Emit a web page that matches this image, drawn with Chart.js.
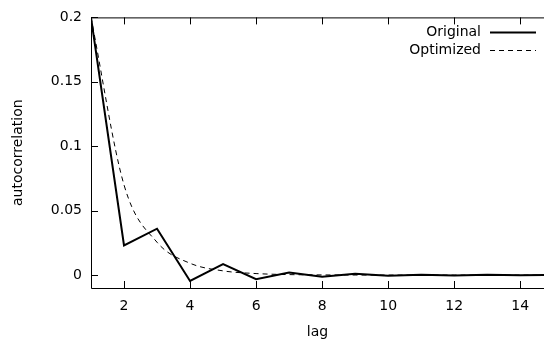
<!DOCTYPE html>
<html>
<head>
<meta charset="utf-8">
<script src="https://cdn.jsdelivr.net/npm/chart.js@4/dist/chart.umd.min.js"></script>
<style>
  html, body { margin: 0; padding: 0; background: #fff; }
  #wrap { width: 544px; height: 343px; }
</style>
</head>
<body>
<div id="wrap"><canvas id="acf"></canvas></div>
<script>
const lags = [1, 2, 3, 4, 5, 6, 7, 8, 9, 10, 11, 12, 13, 14, 15];
const original = [0.2, 0.023, 0.036, -0.0045, 0.0085, -0.0031, 0.0021, -0.0013, 0.001, -0.0005, 0.0003, -0.0003, 0.0002, -0.0001, 0.0001];
const optimized = [0.2, 0.07, 0.0255, 0.0092, 0.0033, 0.0012, 0.0004, 0.00015, 0.00006, 0.00002, 0.00001, 0, 0, 0, 0];
const xTicks = [2, 4, 6, 8, 10, 12, 14];
const yTicks = [0, 0.05, 0.1, 0.15, 0.2];
const yTickLabels = ['0', '0.05', '0.1', '0.15', '0.2'];

const FONT = "'DejaVu Sans', sans-serif";
const INK = '#000';

// gnuplot-like frame: left/bottom/top border, inward ticks, key at top right
const frame = {
  id: 'frame',
  afterDatasetsDraw(chart) {
    const { ctx, chartArea: a, scales: { x, y } } = chart;
    ctx.save();
    ctx.strokeStyle = INK;
    ctx.lineWidth = 1;
    ctx.beginPath();
    ctx.moveTo(a.left + 0.5, a.top + 0.5);
    ctx.lineTo(a.left + 0.5, a.bottom + 0.5);
    ctx.lineTo(a.right, a.bottom + 0.5);
    ctx.moveTo(a.left, a.top + 0.5);
    ctx.lineTo(a.right, a.top + 0.5);
    xTicks.forEach(v => {
      const px = Math.round(x.getPixelForValue(v)) + 0.5;
      ctx.moveTo(px, a.bottom); ctx.lineTo(px, a.bottom - 7);
      ctx.moveTo(px, a.top); ctx.lineTo(px, a.top + 7);
    });
    yTicks.forEach(v => {
      const py = Math.round(y.getPixelForValue(v)) + 0.5;
      ctx.moveTo(a.left, py); ctx.lineTo(a.left + 7, py);
    });
    ctx.stroke();

    // key
    ctx.font = '14px ' + FONT;
    ctx.fillStyle = INK;
    ctx.textAlign = 'right';
    ctx.textBaseline = 'middle';
    chart.data.datasets.forEach((ds, i) => {
      const ky = 32 + i * 18;
      ctx.fillText(ds.label, 481, ky);
      ctx.beginPath();
      ctx.lineWidth = ds.borderWidth;
      ctx.setLineDash(ds.borderDash || []);
      ctx.moveTo(490, Math.round(ky) + 0.5);
      ctx.lineTo(536, Math.round(ky) + 0.5);
      ctx.stroke();
    });
    ctx.restore();
  }
};

new Chart(document.getElementById('acf'), {
  type: 'line',
  data: {
    datasets: [
      { label: 'Original', data: lags.map((l, i) => ({ x: l, y: original[i] })),
        borderColor: INK, borderWidth: 2, pointRadius: 0, tension: 0 },
      { label: 'Optimized', data: lags.map((l, i) => ({ x: l, y: optimized[i] })),
        borderColor: INK, borderWidth: 1, borderDash: [5, 4], pointRadius: 0,
        cubicInterpolationMode: 'monotone' }
    ]
  },
  options: {
    responsive: true, maintainAspectRatio: false, animation: false,
    layout: { padding: { top: 16, right: 0, bottom: 0, left: 0 } },
    plugins: { legend: { display: false }, tooltip: { enabled: false } },
    scales: {
      x: {
        type: 'linear', min: 1, max: 14.72,
        afterBuildTicks: s => { s.ticks = xTicks.map(v => ({ value: v })); },
        afterFit: s => { s.height = 55; },
        grid: { display: false, drawTicks: false }, border: { display: false },
        ticks: { color: INK, padding: 10, font: { family: FONT, size: 14 } },
        title: { display: true, text: 'lag', color: INK, padding: { top: 0, bottom: 2 },
          font: { family: FONT, size: 14 } }
      },
      y: {
        min: -0.01, max: 0.2,
        afterBuildTicks: s => { s.ticks = yTicks.map(v => ({ value: v })); },
        afterFit: s => { s.width = 91; },
        grid: { display: false, drawTicks: false }, border: { display: false },
        ticks: { color: INK, padding: 9, font: { family: FONT, size: 14 },
          callback: (v, i) => yTickLabels[i] },
        title: { display: true, text: 'autocorrelation', color: INK, padding: { top: 10, bottom: 0 },
          font: { family: FONT, size: 14 } }
      }
    }
  },
  plugins: [frame]
});
</script>
</body>
</html>
